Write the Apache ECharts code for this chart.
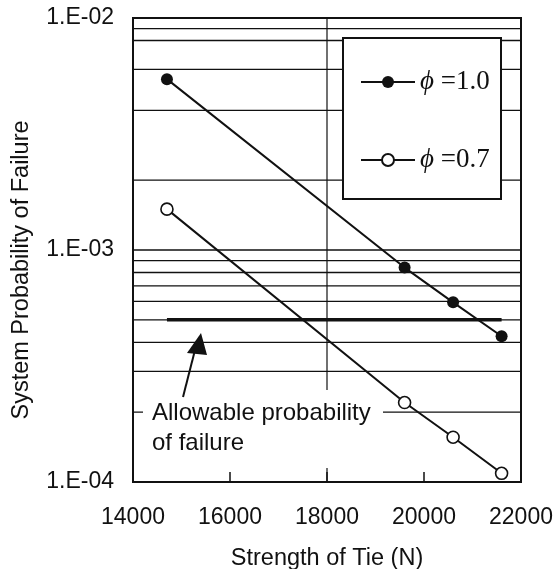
<!DOCTYPE html>
<html>
<head>
<meta charset="utf-8">
<script src="https://cdn.jsdelivr.net/npm/echarts@6/dist/echarts.min.js"></script>
<style>
  html, body { margin: 0; padding: 0; background: #fff; }
  #chart { width: 555px; height: 569px; }
</style>
</head>
<body>
<div id="chart"></div>
<script>
// data
const strength = [14700, 19600, 20600, 21600];
const pfPhi10 = [5.45e-3, 8.4e-4, 5.95e-4, 4.25e-4];
const pfPhi07 = [1.5e-3, 2.2e-4, 1.56e-4, 1.09e-4];
const seriesNames = ['ϕ =1.0', 'ϕ =0.7'];
const allowableX = [14700, 21600];
const allowablePf = 5e-4;
// horizontal grid lines as drawn in the original (some minors missing in upper decade)
const yGridValues = [2e-4, 3e-4, 4e-4, 5e-4, 6e-4, 7e-4, 8e-4, 9e-4, 1e-3, 2e-3, 4e-3, 6e-3, 8e-3, 9e-3];
const xGridValues = [18000];
const yTickLabels = ['1.E-04', '1.E-03', '1.E-02'];
const xTickLabels = ['14000', '16000', '18000', '20000', '22000'];
const annotationText = ['Allowable probability', 'of failure'];

const xMin = 14000, xMax = 22000;
const yMin = 1e-4, yMax = 1e-2;

const ink = '#111';
const sans = 'Liberation Sans, Arial, sans-serif';
const serif = 'Liberation Serif, Times New Roman, serif';

const chart = echarts.init(document.getElementById('chart'), null, { renderer: 'canvas' });

// grid lines drawn as plain line series (markLine misbehaves on log axes)
const gridSeries = yGridValues.map(v => ({
  type: 'line',
  data: [[xMin, v], [xMax, v]],
  symbol: 'none',
  silent: true,
  lineStyle: { color: ink, width: 1.3 },
  z: 1
})).concat(xGridValues.map(v => ({
  type: 'line',
  data: [[v, yMin], [v, yMax]],
  symbol: 'none',
  silent: true,
  lineStyle: { color: ink, width: 1.2 },
  z: 1
})));

const option = {
  animation: false,
  backgroundColor: '#fff',
  textStyle: { fontFamily: sans, color: ink },
  grid: {
    left: 133, right: 34, top: 18, bottom: 87,
    outerBoundsMode: 'none',
    containLabel: false,
    show: true, borderColor: ink, borderWidth: 2, backgroundColor: 'transparent'
  },
  xAxis: {
    type: 'value',
    min: xMin, max: xMax, interval: 2000,
    name: 'Strength of Tie (N)',
    nameLocation: 'middle',
    nameGap: 65,
    nameTextStyle: { fontSize: 23.5, color: ink, fontFamily: sans },
    axisLine: { lineStyle: { color: ink, width: 2 } },
    axisTick: { inside: true, length: 10, lineStyle: { color: ink, width: 1.5 } },
    splitLine: { show: false },
    axisLabel: {
      fontSize: 23, color: ink, margin: 24,
      formatter: v => xTickLabels[Math.round((v - xMin) / 2000)]
    }
  },
  yAxis: {
    type: 'log',
    logBase: 10,
    min: yMin, max: yMax,
    axisLine: { show: true, lineStyle: { color: ink, width: 2 } },
    axisTick: { show: false },
    splitLine: { show: false },
    minorTick: { show: false },
    axisLabel: {
      fontSize: 23, color: ink, margin: 19,
      formatter: v => yTickLabels[Math.round(Math.log10(v)) + 4]
    }
  },
  legend: {
    data: seriesNames,
    orient: 'vertical',
    left: 355, top: 62,
    itemWidth: 54, itemHeight: 15, itemGap: 48,
    z: 20,
    textStyle: {
      fontFamily: serif, fontSize: 27, color: ink, lineHeight: 30,
      rich: {
        p: { fontFamily: serif, fontStyle: 'italic', fontSize: 27, color: ink, lineHeight: 30 },
        t: { fontFamily: serif, fontSize: 27, color: ink, lineHeight: 30 }
      }
    },
    formatter: name => '{p|' + name.slice(0, 1) + '}{t|' + name.slice(1) + '}'
  },
  graphic: [
    {
      type: 'text', x: 22, y: 270, rotation: Math.PI / 2,
      style: { text: 'System Probability of Failure', font: '23.5px ' + sans, fill: ink, align: 'center', verticalAlign: 'middle' }
    },
    {
      type: 'rect', z: 15,
      shape: { x: 343, y: 38, width: 158, height: 161 },
      style: { fill: '#fff', stroke: ink, lineWidth: 2 }
    },
    {
      type: 'rect', z: 15,
      shape: { x: 143, y: 390, width: 240, height: 78 },
      style: { fill: '#fff' }
    },
    {
      type: 'text', z: 16, x: 152, y: 398,
      style: {
        text: annotationText.join('\n'), font: '24px ' + sans, fill: ink,
        lineHeight: 30
      }
    },
    {
      type: 'line', z: 16,
      shape: { x1: 183, y1: 397, x2: 195, y2: 350 },
      style: { stroke: ink, lineWidth: 2 }
    },
    {
      type: 'polygon', z: 16,
      shape: { points: [[201, 333], [187, 353], [207, 355]] },
      style: { fill: ink }
    }
  ],
  series: gridSeries.concat([
    {
      name: 'Allowable',
      type: 'line',
      data: allowableX.map(x => [x, allowablePf]),
      symbol: 'none',
      silent: true,
      lineStyle: { color: ink, width: 3.5 },
      z: 3
    },
    {
      name: seriesNames[0],
      type: 'line',
      data: strength.map((x, i) => [x, pfPhi10[i]]),
      symbol: 'circle',
      symbolSize: 12,
      itemStyle: { color: ink },
      lineStyle: { color: ink, width: 2 },
      z: 4
    },
    {
      name: seriesNames[1],
      type: 'line',
      data: strength.map((x, i) => [x, pfPhi07[i]]),
      symbol: 'circle',
      symbolSize: 12,
      itemStyle: { color: '#fff', borderColor: ink, borderWidth: 1.6 },
      lineStyle: { color: ink, width: 2 },
      z: 4
    }
  ])
};

chart.setOption(option);
</script>
</body>
</html>
